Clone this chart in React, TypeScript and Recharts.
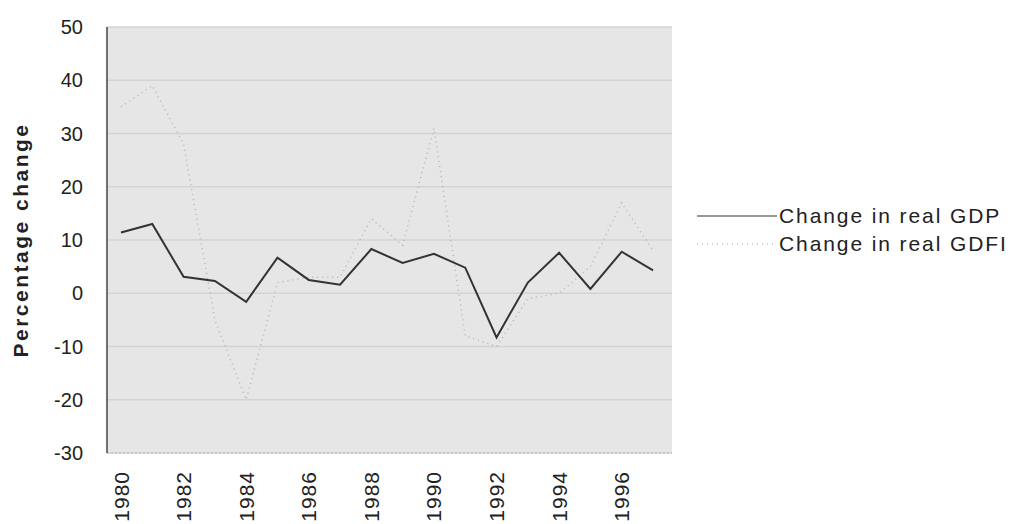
import { LineChart, Line, XAxis, YAxis, CartesianGrid } from 'recharts'

const years = [
  '1980', '1981', '1982', '1983', '1984', '1985', '1986', '1987', '1988',
  '1989', '1990', '1991', '1992', '1993', '1994', '1995', '1996', '1997',
]
const realGdp = [11.4, 13, 3.1, 2.3, -1.6, 6.7, 2.5, 1.6, 8.3, 5.7, 7.4, 4.8, -8.3, 2, 7.6, 0.8, 7.8, 4.3]
const realGdfi = [35, 39, 28, -5, -20, 2, 3, 3, 14, 9, 31, -8, -10, -1, 0, 5, 17, 8]
const yTicks = [-30, -20, -10, 0, 10, 20, 30, 40, 50]

const data = years.map((year, i) => ({ year, gdp: realGdp[i], gdfi: realGdfi[i] }))

const FONT = '"Liberation Sans", Arial, sans-serif'

const YearTick = ({ x, y, payload }: any) => (
  <text
    x={x}
    y={y}
    transform={`rotate(-90, ${x}, ${y})`}
    dx={-10}
    dy="0.36em"
    textAnchor="end"
    fill="#222"
    fontSize={21}
    fontFamily={FONT}
    letterSpacing={1}
  >
    {payload.value}
  </text>
)

const LegendBox = () => (
  <div style={{ position: 'absolute', left: 697, top: 202, fontFamily: FONT, fontSize: 21, color: '#222', letterSpacing: 1.9 }}>
    <div style={{ display: 'flex', alignItems: 'center', height: 28 }}>
      <svg width={80} height={4}><line x1={0} y1={2} x2={80} y2={2} stroke="#333" strokeWidth={1.2} /></svg>
      <span style={{ marginLeft: 2 }}>Change in real GDP</span>
    </div>
    <div style={{ display: 'flex', alignItems: 'center', height: 28 }}>
      <svg width={80} height={4}><line x1={0} y1={2} x2={80} y2={2} stroke="#aaa" strokeWidth={1.2} strokeDasharray="1 4" /></svg>
      <span style={{ marginLeft: 2 }}>Change in real GDFI</span>
    </div>
  </div>
)

export default function App() {
  return (
    <div style={{ position: 'absolute', left: 0, top: 0, width: 1020, height: 524, background: '#fff' }}>
      <LineChart width={1020} height={524} data={data} margin={{ top: 27, right: 348, bottom: 0, left: 0 }}>
        <CartesianGrid vertical={false} fill="#e6e6e6" stroke="#d3d3d3" strokeWidth={1.5} />
        <XAxis
          dataKey="year"
          interval={1}
          height={71}
          padding={{ left: 14, right: 19 }}
          tick={<YearTick />}
          tickLine={false}
          axisLine={{ stroke: '#bbb', strokeDasharray: '2 2' }}
        />
        <YAxis
          width={107}
          domain={[-30, 50]}
          ticks={yTicks}
          interval={0}
          tickSize={0}
          tickMargin={24}
          axisLine={{ stroke: '#444', strokeWidth: 1.5 }}
          tick={{ fill: '#222', fontSize: 20, fontFamily: FONT }}
          label={{
            value: 'Percentage change',
            angle: -90,
            position: 'center',
            dx: -33,
            style: { fontFamily: FONT, fontSize: 21, fontWeight: 700, fill: '#222', letterSpacing: 2.5 },
          }}
        />
        <Line
          type="linear"
          dataKey="gdfi"
          stroke="#b4b4b4"
          strokeWidth={1.5}
          strokeDasharray="1 4"
          dot={false}
          isAnimationActive={false}
        />
        <Line
          type="linear"
          dataKey="gdp"
          stroke="#333"
          strokeWidth={2}
          dot={false}
          isAnimationActive={false}
        />
      </LineChart>
      <LegendBox />
    </div>
  )
}
